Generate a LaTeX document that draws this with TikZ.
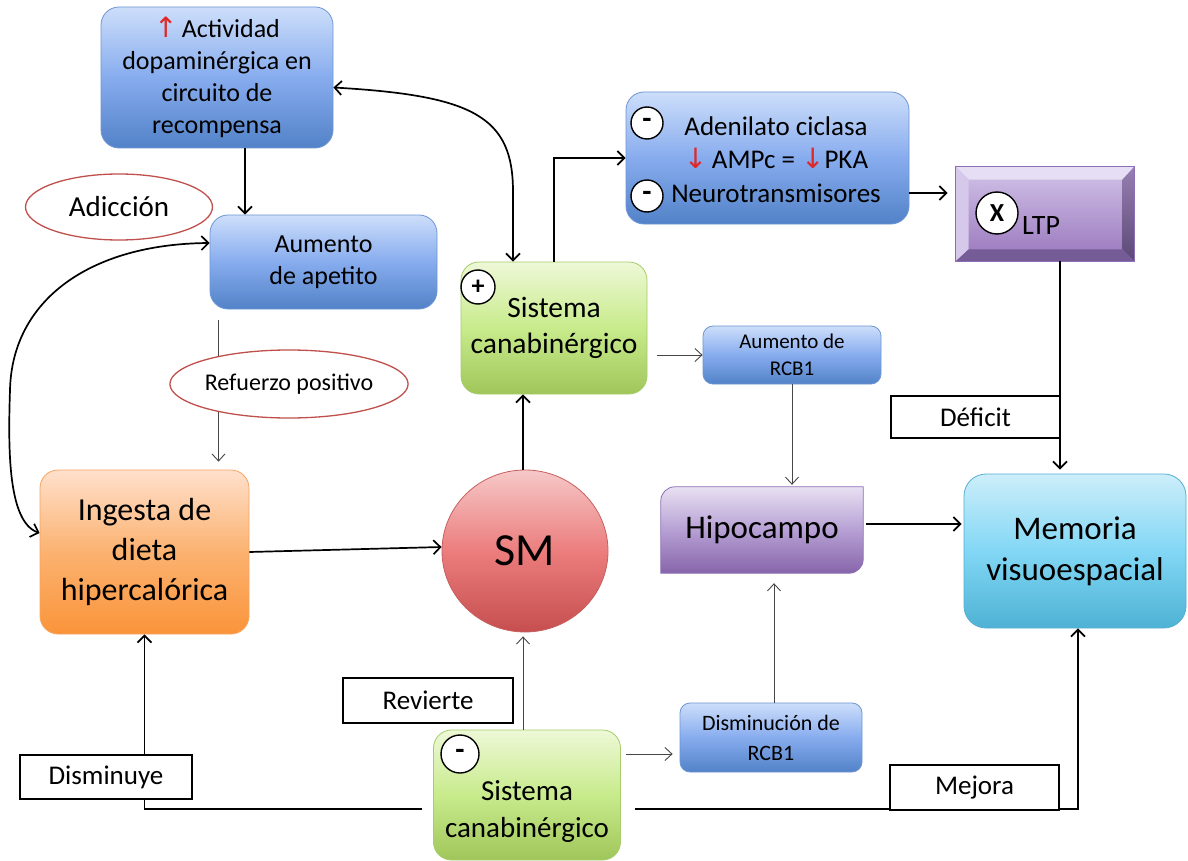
\documentclass[tikz,border=0pt]{standalone}
\usepackage{fontspec}
\setmainfont{Carlito}
\newfontfamily\arrowfont{DejaVu Sans}
\usetikzlibrary{arrows.meta,shapes.geometric,backgrounds}

\definecolor{blueT}{RGB}{205,222,250}
\definecolor{blueM}{RGB}{135,172,238}
\definecolor{blueB}{RGB}{82,130,200}
\definecolor{blueE}{RGB}{110,150,210}
\definecolor{greenT}{RGB}{238,248,215}
\definecolor{greenM}{RGB}{200,235,140}
\definecolor{greenB}{RGB}{160,198,90}
\definecolor{greenE}{RGB}{165,205,105}
\definecolor{orangeT}{RGB}{255,224,204}
\definecolor{orangeM}{RGB}{251,178,112}
\definecolor{orangeB}{RGB}{250,148,58}
\definecolor{orangeE}{RGB}{247,165,95}
\definecolor{redT}{RGB}{246,200,200}
\definecolor{redM}{RGB}{236,125,125}
\definecolor{redB}{RGB}{198,78,78}
\definecolor{redE}{RGB}{200,95,95}
\definecolor{purT}{RGB}{232,224,242}
\definecolor{purM}{RGB}{182,160,212}
\definecolor{purB}{RGB}{135,100,170}
\definecolor{purE}{RGB}{140,110,180}
\definecolor{cyanT}{RGB}{205,238,250}
\definecolor{cyanM}{RGB}{130,215,245}
\definecolor{cyanB}{RGB}{78,178,212}
\definecolor{cyanE}{RGB}{85,175,210}
\definecolor{ovalE}{RGB}{192,80,77}
\definecolor{arrowred}{RGB}{225,40,40}
\definecolor{fineline}{RGB}{70,70,70}
\definecolor{ltpT}{RGB}{210,195,232}
\definecolor{ltpB}{RGB}{152,118,188}
\definecolor{bevTop}{RGB}{230,222,244}
\definecolor{bevLeft}{RGB}{214,200,234}
\definecolor{bevRightT}{RGB}{150,128,178}
\definecolor{bevRightB}{RGB}{92,72,118}
\definecolor{bevBot}{RGB}{118,92,150}

\newcommand\fsz[2]{\fontsize{#1pt}{#2pt}\selectfont}
\newcommand\upar{\textcolor{arrowred}{\arrowfont\fsz{28}{28}↑}}
\newcommand\dnar{\textcolor{arrowred}{\arrowfont\fsz{28}{28}↓}}

\begin{document}
\begin{tikzpicture}[x=1pt,y=-1pt,
  conn/.style={line width=1.7pt,-{Straight Barb[length=7pt,width=14pt]}},
  biconn/.style={line width=1.7pt,{Straight Barb[length=7pt,width=14pt]}-{Straight Barb[length=7pt,width=14pt]}},
  fine/.style={line width=0.9pt,draw=fineline,-{Straight Barb[length=7pt,width=13pt]}},
  box/.style={rounded corners=18pt,line width=0.8pt,align=center,inner sep=0pt},
  bluebox/.style={box,draw=blueE,top color=blueT,bottom color=blueB,middle color=blueM},
  greenbox/.style={box,draw=greenE,top color=greenT,bottom color=greenB,middle color=greenM},
  orangebox/.style={box,draw=orangeE,top color=orangeT,bottom color=orangeB,middle color=orangeM},
  cyanbox/.style={box,draw=cyanE,top color=cyanT,bottom color=cyanB,middle color=cyanM},
  oval/.style={ellipse,draw=ovalE,line width=1.3pt,fill=white,inner sep=0pt},
  tag/.style={draw,line width=1.8pt,fill=white,inner sep=0pt,font=\fsz{27}{32}},
  sign/.style={circle,draw,line width=1.4pt,fill=white,inner sep=0pt,font=\bfseries\fsz{26}{26}},
  txt/.style={align=center,inner sep=0pt}]

\useasboundingbox (0,0) rectangle (1188,861);

% ---- boxes ----
\node[bluebox,minimum width=232pt,minimum height=141pt,font=\fsz{26}{32}] (act) at (217,77.5)
  {\upar\,Actividad\\dopaminérgica en\\circuito de\\recompensa};
\node[bluebox,minimum width=227pt,minimum height=94pt,font=\fsz{26}{32}] (ape) at (323.5,262)
  {Aumento\\de apetito};
\node[orangebox,minimum width=209pt,minimum height=164pt,font=\fsz{32}{40}] (ing) at (144.5,552)
  {Ingesta de\\dieta\\hipercalórica};
\node[ellipse,draw=redE,line width=0.8pt,top color=redT,bottom color=redB,middle color=redM,
  minimum width=166pt,minimum height=162pt,inner sep=0pt,font=\fsz{46}{46}] (sm) at (525,551) {SM};
\node[greenbox,minimum width=186pt,minimum height=132pt,font=\fsz{29.5}{36}] (cbT) at (554,328)
  {Sistema\\canabinérgico};
\node[sign,minimum size=34pt] (plus) at (478,287) {+};

\node[bluebox,minimum width=283pt,minimum height=132pt] (aden) at (767.5,158) {};
\node[txt,font=\fsz{27}{33.5}] (adenTxt) at (776,159.5)
  {Adenilato ciclasa\\\dnar\,AMPc = \dnar PKA\\Neurotransmisores};
\node[sign,minimum size=32pt,font=\bfseries\fsz{30}{30}] (minA) at (647,123) {-};
\node[sign,minimum size=32pt,font=\bfseries\fsz{30}{30}] (minB) at (647,196) {-};

% LTP bevelled block
\node[rectangle,draw=purE,line width=0.8pt,top color=ltpT,bottom color=ltpB,
  minimum width=178pt,minimum height=94pt,inner sep=0pt] (ltp) at (1045,214) {};
\fill[bevTop] (ltp.north west) -- (ltp.north east) -- ([xshift=-12pt,yshift=-13pt]ltp.north east)
  -- ([xshift=13pt,yshift=-13pt]ltp.north west) -- cycle;
\fill[bevLeft] (ltp.north west) -- ([xshift=13pt,yshift=-13pt]ltp.north west)
  -- ([xshift=13pt,yshift=12pt]ltp.south west) -- (ltp.south west) -- cycle;
\shade[top color=bevRightT,bottom color=bevRightB] (ltp.north east) -- (ltp.south east)
  -- ([xshift=-12pt,yshift=12pt]ltp.south east) -- ([xshift=-12pt,yshift=-13pt]ltp.north east) -- cycle;
\fill[bevBot] (ltp.south west) -- ([xshift=13pt,yshift=12pt]ltp.south west)
  -- ([xshift=-12pt,yshift=12pt]ltp.south east) -- (ltp.south east) -- cycle;
\draw[purE,line width=0.8pt] (ltp.north west) rectangle (ltp.south east);
\node[sign,minimum size=42pt,font=\bfseries\fsz{26}{26}] (xop) at (997,213) {X};
\node[txt,font=\fsz{28}{28},anchor=west] (ltpTxt) at (1022,226) {LTP};

\node[bluebox,rounded corners=10pt,minimum width=178pt,minimum height=58pt,font=\fsz{21}{27}] (rcbU) at (792,355)
  {Aumento de\\RCB1};
\node[txt,minimum width=202pt,minimum height=86pt,font=\fsz{33}{33}] (hipo) at (762,530) {Hipocampo};
\node[cyanbox,rounded corners=22pt,minimum width=222pt,minimum height=154pt,font=\fsz{33}{41}] (mem) at (1075,551)
  {Memoria\\visuoespacial};
\node[bluebox,rounded corners=10pt,minimum width=182pt,minimum height=69pt,font=\fsz{22}{30}] (rcbD) at (771,737.5)
  {Disminución de\\RCB1};
\node[greenbox,minimum width=187pt,minimum height=130pt] (cbB) at (527,795) {};
\node[txt,font=\fsz{29}{37}] (cbBt) at (527,811.5) {Sistema\\canabinérgico};
\node[sign,minimum size=38pt,font=\bfseries\fsz{30}{30}] (minC) at (460,754) {-};

% ---- background and hippocampus shape ----
\begin{pgfonlayer}{background}
\fill[white] (0,0) rectangle (1188,861);
\shade[top color=purT,bottom color=purB,middle color=purM,draw=purE,line width=0.8pt]
  (hipo.south west) -- ([yshift=-14pt]hipo.north west) arc[start angle=180,end angle=90,radius=14pt]
  -- (hipo.north east) -- ([yshift=14pt]hipo.south east) arc[start angle=0,end angle=-90,radius=14pt]
  -- cycle;
\end{pgfonlayer}

% ---- connectors ----
\draw[conn] ([xshift=28pt]act.south) -- ([xshift=28pt]act.south |- ape.north);
\draw[biconn] ([yshift=-10pt]act.east) .. controls +(140,8) and +(0,-75) ..
  ([xshift=-41pt,yshift=70pt]cbT.north) -- ([xshift=-41pt]cbT.north);
\draw[biconn] ([yshift=19pt]ing.west) .. controls (8,522) and (8,450) .. (10,390)
  .. controls (12,300) and (90,244) .. ([yshift=19pt]ape.west);
\draw[fine,shorten >=8pt] ([xshift=-105pt,yshift=-11pt]ape.south) -- ([xshift=-105pt]ape.south |- ing.north);
\draw[conn] (ing.east) -- ([yshift=4pt]sm.west);
\draw[conn] ([xshift=-2pt]sm.north) -- ([xshift=-2pt]sm.north |- cbT.south);
\draw[conn] (cbT.north) |- (aden.west);
\draw[conn,shorten >=8pt] ([yshift=-35pt]aden.east) -- ([yshift=-35pt]aden.east -| ltp.west);
\draw[conn,shorten >=4pt] ([xshift=15pt]ltp.south) -- ([xshift=15pt]ltp.south |- mem.north);
\draw[fine] ([xshift=10pt]cbT.east |- rcbU.west) -- (rcbU.west);
\draw[fine,shorten >=2pt] (rcbU.south) -- (rcbU.south |- hipo.north);
\draw[conn,shorten >=2pt] ([xshift=3pt,yshift=6pt]hipo.east) -- ([yshift=6pt]hipo.east -| mem.west);
\draw[fine,shorten >=4pt] ([xshift=-4pt]cbB.north) -- ([xshift=-4pt]cbB.north |- sm.south);
\draw[fine,shorten >=10pt] ([xshift=3pt]rcbD.north) -- ([xshift=3pt]rcbD.north |- hipo.south);
\draw[fine,shorten >=7pt] ([xshift=5pt,yshift=41pt]cbB.east) -- ([yshift=41pt]cbB.east -| rcbD.west);
\draw[conn] ([xshift=-11pt,yshift=-14pt]cbB.west) -| (ing.south);
\draw[conn] ([xshift=14pt,yshift=-14pt]cbB.east) -| ([xshift=3pt]mem.south);

% ---- ovals and tags over the lines ----
\node[oval,minimum width=187pt,minimum height=66pt,font=\fsz{29}{29}] (adic) at (119,207) {Adicción};
\node[oval,minimum width=200pt,minimum height=68pt,font=\fsz{24}{24}] (refz) at (289,384) {Refuerzo positivo};
\node[tag,minimum width=169pt,minimum height=42pt] (def) at (975.5,417) {Déficit};
\node[tag,minimum width=170pt,minimum height=45pt] (rev) at (428,700.5) {Revierte};
\node[tag,minimum width=172pt,minimum height=44pt] (dism) at (106,777) {Disminuye};
\node[tag,minimum width=169pt,minimum height=45pt] (mej) at (974.5,787.5) {Mejora};
\end{tikzpicture}
\end{document}
